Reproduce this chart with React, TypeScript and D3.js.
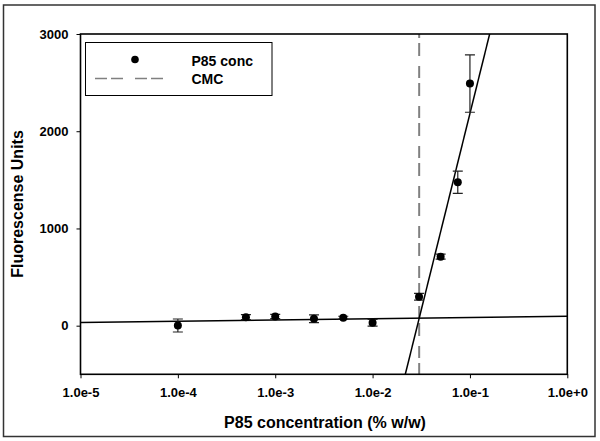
import React, { useEffect, useRef } from "react";
import * as d3 from "d3";

// P85 concentration (% w/w) and measured fluorescence
const concentrations = [1e-4, 5e-4, 1e-3, 2.5e-3, 5e-3, 1e-2, 3e-2, 5e-2, 7.5e-2, 1e-1];
const fluorescence = [2, 88, 95, 72, 82, 30, 298, 710, 1475, 2490];
const errors = [67, 25, 22, 40, 15, 35, 35, 25, 115, 295];

// axis ticks
const xTicks = [1e-5, 1e-4, 1e-3, 1e-2, 1e-1, 1];
const yTicks = [0, 1000, 2000, 3000];

// linear fits in log10(x): y = a + b * log10(x)
const flatFit = [96, 12.5];
const steepFit = [6221, 4039];
const cmc = 0.0301;

const App = () => {
  const chartRef = useRef<HTMLDivElement>(null);

  useEffect(() => {
    const width = 600;
    const height = 441;
    const margin = { top: 34, right: 32.7, bottom: 66.7, left: 80.5 };
    const innerW = width - margin.left - margin.right;
    const innerH = height - margin.top - margin.bottom;
    const font = "'Liberation Sans', Arial, sans-serif";

    d3.select(chartRef.current).select("svg").remove();

    const root = d3
      .select(chartRef.current)
      .append("svg")
      .attr("width", width)
      .attr("height", height)
      .style("position", "absolute")
      .style("left", 0)
      .style("top", 0)
      .style("background", "#fff");

    // outer frame
    root
      .append("rect")
      .attr("x", 3.5)
      .attr("y", 5)
      .attr("width", 591.5)
      .attr("height", 431.5)
      .attr("fill", "none")
      .attr("stroke", "#333")
      .attr("stroke-width", 1.5);

    const svg = root.append("g").attr("transform", `translate(${margin.left},${margin.top})`);

    const x = d3.scaleLog().domain([1e-5, 1]).range([0, innerW]);
    const y = d3.scaleLinear().domain([-500, 3000]).range([innerH, 0]);

    svg
      .append("defs")
      .append("clipPath")
      .attr("id", "plot-clip")
      .append("rect")
      .attr("width", innerW)
      .attr("height", innerH);

    // X axis
    const xAxis = svg
      .append("g")
      .attr("transform", `translate(0,${innerH})`)
      .call(
        d3
          .axisBottom(x)
          .tickValues(xTicks)
          .tickSize(4)
          .tickPadding(9)
          .tickFormat((d) => d3.format(".1e")(d as number))
      );
    xAxis.select(".domain").remove();
    xAxis.selectAll("line").attr("stroke", "#000").attr("stroke-width", 1);
    xAxis
      .selectAll("text")
      .attr("font-family", font)
      .attr("font-weight", "bold")
      .attr("font-size", 13)
      .attr("fill", "#000");

    // Y axis
    const yAxis = svg
      .append("g")
      .call(d3.axisLeft(y).tickValues(yTicks).tickSize(4).tickPadding(8).tickFormat(d3.format("d")));
    yAxis.select(".domain").remove();
    yAxis.selectAll("line").attr("stroke", "#000").attr("stroke-width", 1);
    yAxis
      .selectAll("text")
      .attr("font-family", font)
      .attr("font-weight", "bold")
      .attr("font-size", 13)
      .attr("fill", "#000");

    // axis titles
    svg
      .append("text")
      .attr("x", 325 - margin.left)
      .attr("y", 428 - margin.top)
      .attr("text-anchor", "middle")
      .attr("font-family", font)
      .attr("font-weight", "bold")
      .attr("font-size", 16)
      .text("P85 concentration (% w/w)");

    svg
      .append("text")
      .attr("transform", `translate(${23 - margin.left},${204 - margin.top}) rotate(-90)`)
      .attr("text-anchor", "middle")
      .attr("font-family", font)
      .attr("font-weight", "bold")
      .attr("font-size", 16)
      .text("Fluorescense Units");

    const plot = svg.append("g").attr("clip-path", "url(#plot-clip)");

    // CMC dashed line
    plot
      .append("line")
      .attr("x1", x(cmc))
      .attr("x2", x(cmc))
      .attr("y1", 0)
      .attr("y2", innerH)
      .attr("stroke", "#808080")
      .attr("stroke-width", 2)
      .attr("stroke-dasharray", "13,10,12,5")
      .attr("stroke-dashoffset", 31);

    // fit lines
    [flatFit, steepFit].forEach(([a, b]) => {
      const fitLine = d3
        .line<number>()
        .x((d) => x(d))
        .y((d) => y(a + b * Math.log10(d)));
      plot
        .append("path")
        .datum([1e-5, 1])
        .attr("d", fitLine)
        .attr("fill", "none")
        .attr("stroke", "#000")
        .attr("stroke-width", 1.5);
    });

    // error bars
    const pts = concentrations.map((c, i) => ({ c, v: fluorescence[i], e: errors[i] }));
    const eb = plot
      .selectAll(".eb")
      .data(pts)
      .enter()
      .append("g")
      .attr("stroke", "#222")
      .attr("stroke-width", 1.2);
    eb.append("line")
      .attr("x1", (d) => x(d.c))
      .attr("x2", (d) => x(d.c))
      .attr("y1", (d) => y(d.v - d.e))
      .attr("y2", (d) => y(d.v + d.e));
    eb.append("line")
      .attr("x1", (d) => x(d.c) - 5)
      .attr("x2", (d) => x(d.c) + 5)
      .attr("y1", (d) => y(d.v + d.e))
      .attr("y2", (d) => y(d.v + d.e));
    eb.append("line")
      .attr("x1", (d) => x(d.c) - 5)
      .attr("x2", (d) => x(d.c) + 5)
      .attr("y1", (d) => y(d.v - d.e))
      .attr("y2", (d) => y(d.v - d.e));

    // points
    plot
      .selectAll(".pt")
      .data(pts)
      .enter()
      .append("circle")
      .attr("cx", (d) => x(d.c))
      .attr("cy", (d) => y(d.v))
      .attr("r", 4)
      .attr("fill", "#000");

    // plot frame
    svg
      .append("rect")
      .attr("width", innerW)
      .attr("height", innerH)
      .attr("fill", "none")
      .attr("stroke", "#000")
      .attr("stroke-width", 1.6);

    // legend
    const lg = svg.append("g").attr("transform", `translate(${85.5 - margin.left},${42.5 - margin.top})`);
    lg.append("rect")
      .attr("width", 186.5)
      .attr("height", 53)
      .attr("fill", "#fff")
      .attr("stroke", "#000")
      .attr("stroke-width", 1);
    lg.append("circle").attr("cx", 49.5).attr("cy", 17).attr("r", 3.8).attr("fill", "#000");
    lg.append("line")
      .attr("x1", 9.5)
      .attr("x2", 78)
      .attr("y1", 36)
      .attr("y2", 36)
      .attr("stroke", "#808080")
      .attr("stroke-width", 1.5)
      .attr("stroke-dasharray", "12,4,12,12");
    lg.append("text")
      .attr("x", 106)
      .attr("y", 23)
      .attr("font-family", font)
      .attr("font-weight", "bold")
      .attr("font-size", 14)
      .text("P85 conc");
    lg.append("text")
      .attr("x", 106)
      .attr("y", 41)
      .attr("font-family", font)
      .attr("font-weight", "bold")
      .attr("font-size", 14)
      .text("CMC");
  }, []);

  return <div ref={chartRef}></div>;
};

export default App;
